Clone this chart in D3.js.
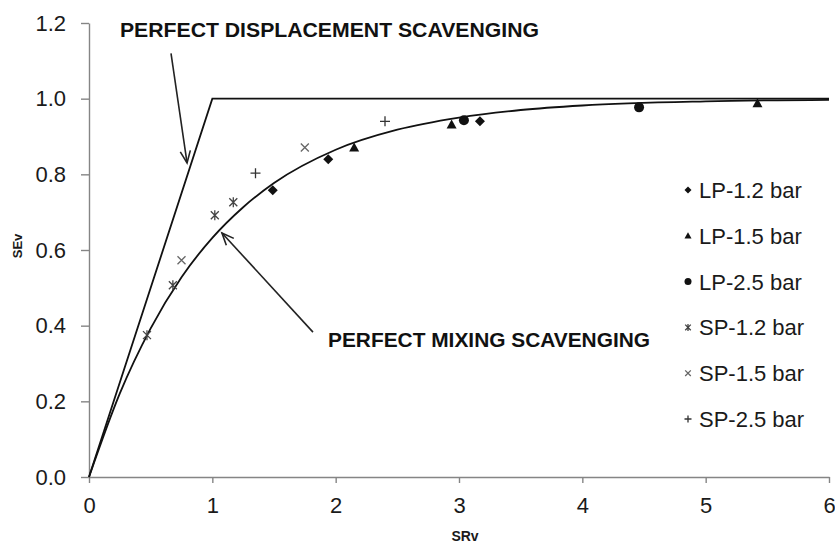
<!DOCTYPE html>
<html>
<head>
<meta charset="utf-8">
<script src="https://cdn.jsdelivr.net/npm/d3@7"></script>
<style>
  body { margin: 0; background: #fff; }
  svg { display: block; font-family: Arial, "Liberation Sans", sans-serif; }
</style>
</head>
<body>
<svg id="chart" width="835" height="544"></svg>
<script>
// Axis ticks
const xTicks = [0, 1, 2, 3, 4, 5, 6];
const yTicks = [0, 0.2, 0.4, 0.6, 0.8, 1.0, 1.2];

// Measured scavenging efficiency (SEv) against scavenge ratio (SRv)
const lp12 = [[1.49, 0.758], [1.94, 0.840], [3.17, 0.940]];
const lp15 = [[2.15, 0.871], [2.94, 0.932], [5.42, 0.988]];
const lp25 = [[3.04, 0.943], [4.46, 0.977]];
const sp12 = [[0.47, 0.375], [0.68, 0.507], [1.02, 0.692], [1.17, 0.726]];
const sp15 = [[0.75, 0.573], [1.75, 0.871]];
const sp25 = [[1.35, 0.803], [2.40, 0.940]];

const seriesNames = ["LP-1.2 bar", "LP-1.5 bar", "LP-2.5 bar", "SP-1.2 bar", "SP-1.5 bar", "SP-2.5 bar"];
const seriesData = [lp12, lp15, lp25, sp12, sp15, sp25];
const seriesShapes = ["diamond", "triangle", "circle", "star", "x", "plus"];

// Reference limits
const displacementSR = [0, 1, 6];
const displacementSE = [0, 1, 1];
const mixingSR = [0, 0.25, 0.5, 0.75, 1, 1.25, 1.5, 2, 2.5, 3, 3.5, 4, 5, 6];
const mixingSE = [0, 0.221, 0.393, 0.528, 0.632, 0.713, 0.777, 0.865, 0.918, 0.950, 0.970, 0.982, 0.993, 0.997];

// Annotation labels
const labelDisplacement = "PERFECT DISPLACEMENT SCAVENGING";
const labelMixing = "PERFECT MIXING SCAVENGING";

const svg = d3.select("#chart");
const x = d3.scaleLinear().domain([0, 6]).range([89, 829]);
const y = d3.scaleLinear().domain([0, 1.2]).range([477, 23]);

const axisColor = "#858585";

// Axes
const gx = svg.append("g").attr("transform", `translate(0,${y(0)})`)
  .call(d3.axisBottom(x).tickValues(xTicks).tickFormat(d3.format("d"))
    .tickSize(6).tickSizeOuter(0).tickPadding(14));
const gy = svg.append("g").attr("transform", `translate(${x(0)},0)`)
  .call(d3.axisLeft(y).tickValues(yTicks).tickFormat(d3.format(".1f"))
    .tickSize(8).tickSizeOuter(0).tickPadding(15));
[gx, gy].forEach(g => {
  g.select(".domain").attr("stroke", axisColor).attr("stroke-width", 1.4);
  g.selectAll(".tick line").attr("stroke", axisColor).attr("stroke-width", 1.4);
  g.selectAll(".tick text").attr("fill", "#1a1a1a")
    .style("font-size", "22px").style("font-family", "Arial, 'Liberation Sans', sans-serif");
});

// Axis titles
svg.append("text").attr("x", 465).attr("y", 541).attr("text-anchor", "middle")
  .style("font-size", "14px").style("font-weight", "bold").attr("fill", "#1a1a1a").text("SRv");
svg.append("text").attr("transform", "translate(22,246) rotate(-90)").attr("text-anchor", "middle")
  .style("font-size", "13px").style("font-weight", "bold").attr("fill", "#1a1a1a").text("SEv");

// Limit curves
const line = d3.line().x(d => x(d[0])).y(d => y(d[1]));
svg.append("path")
  .datum(displacementSR.map((v, i) => [v, displacementSE[i]]))
  .attr("d", line).attr("fill", "none").attr("stroke", "#111").attr("stroke-width", 1.8);
svg.append("path")
  .datum(mixingSR.map((v, i) => [v, mixingSE[i]]))
  .attr("d", line.curve(d3.curveMonotoneX)).attr("fill", "none").attr("stroke", "#111").attr("stroke-width", 1.8);

// Marker drawing
function marker(g, shape, s) {
  const h = s / 2;
  if (shape === "diamond") {
    g.append("path").attr("d", `M0,${-h}L${h},0L0,${h}L${-h},0Z`).attr("fill", "#111");
  } else if (shape === "triangle") {
    g.append("path").attr("d", `M0,${-h}L${h},${h * 0.8}L${-h},${h * 0.8}Z`).attr("fill", "#111");
  } else if (shape === "circle") {
    g.append("circle").attr("r", h).attr("fill", "#111");
  } else if (shape === "star") {
    const k = h * 0.8;
    g.append("path").attr("d", `M${-k},${-k}L${k},${k}M${-k},${k}L${k},${-k}M0,${-h}L0,${h}`)
      .attr("stroke", "#444").attr("stroke-width", 1.3).attr("fill", "none");
  } else if (shape === "x") {
    const k = h * 0.8;
    g.append("path").attr("d", `M${-k},${-k}L${k},${k}M${-k},${k}L${k},${-k}`)
      .attr("stroke", "#666").attr("stroke-width", 1.3).attr("fill", "none");
  } else if (shape === "plus") {
    g.append("path").attr("d", `M${-h},0L${h},0M0,${-h}L0,${h}`)
      .attr("stroke", "#333").attr("stroke-width", 1.3).attr("fill", "none");
  }
}

seriesData.forEach((data, i) => {
  svg.append("g").selectAll("g").data(data).join("g")
    .attr("transform", d => `translate(${x(d[0])},${y(d[1])})`)
    .each(function () { marker(d3.select(this), seriesShapes[i], 10); });
});

// Legend
const legend = svg.append("g");
seriesNames.forEach((name, i) => {
  const row = legend.append("g").attr("transform", `translate(688,${190 + i * 45.8})`);
  marker(row.append("g"), seriesShapes[i], 7);
  row.append("text").attr("x", 11).attr("y", 0).attr("dy", "0.36em")
    .style("font-size", "22px").attr("fill", "#1a1a1a").text(name);
});

// Annotations with open arrowheads
function arrow(x0, y0, x1, y1) {
  const px0 = x(x0), py0 = y(y0), px1 = x(x1), py1 = y(y1);
  const a = Math.atan2(py1 - py0, px1 - px0);
  const L = 13, spread = 0.4;
  const g = svg.append("g").attr("stroke", "#222").attr("stroke-width", 1.6).attr("fill", "none");
  g.append("line").attr("x1", px0).attr("y1", py0).attr("x2", px1).attr("y2", py1);
  g.append("path").attr("d",
    `M${px1 - L * Math.cos(a - spread)},${py1 - L * Math.sin(a - spread)}L${px1},${py1}` +
    `L${px1 - L * Math.cos(a + spread)},${py1 - L * Math.sin(a + spread)}`);
}
arrow(0.665, 1.12, 0.795, 0.83);
arrow(1.816, 0.383, 1.078, 0.645);

svg.append("text").attr("x", x(0.251)).attr("y", y(1.163))
  .style("font-size", "20px").style("font-weight", "bold").attr("fill", "#111")
  .attr("textLength", 419).attr("lengthAdjust", "spacingAndGlyphs").text(labelDisplacement);
svg.append("text").attr("x", x(1.938)).attr("y", y(0.344))
  .style("font-size", "20px").style("font-weight", "bold").attr("fill", "#111")
  .attr("textLength", 322).attr("lengthAdjust", "spacingAndGlyphs").text(labelMixing);
</script>
</body>
</html>
